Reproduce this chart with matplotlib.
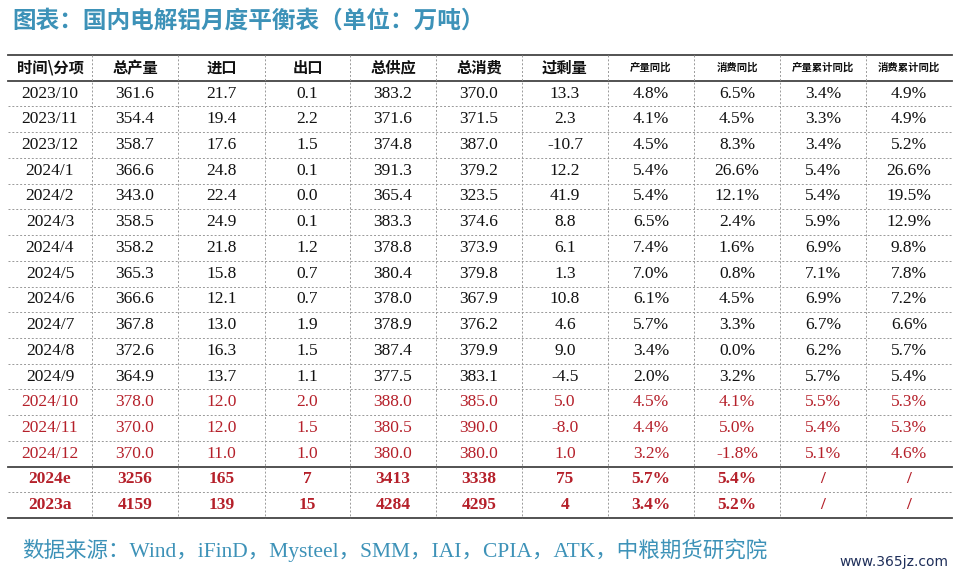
import matplotlib
matplotlib.use("Agg")
import matplotlib.pyplot as plt

headers = ["时间\\分项", "总产量", "进口", "出口", "总供应", "总消费", "过剩量", "产量同比", "消费同比", "产量累计同比", "消费累计同比"]
periods = ["2023/10", "2023/11", "2023/12", "2024/1", "2024/2", "2024/3", "2024/4", "2024/5", "2024/6",
           "2024/7", "2024/8", "2024/9", "2024/10", "2024/11", "2024/12", "2024e", "2023a"]
production = ["361.6", "354.4", "358.7", "366.6", "343.0", "358.5", "358.2", "365.3", "366.6", "367.8", "372.6", "364.9", "378.0", "370.0", "370.0", "3256", "4159"]
imports = ["21.7", "19.4", "17.6", "24.8", "22.4", "24.9", "21.8", "15.8", "12.1", "13.0", "16.3", "13.7", "12.0", "12.0", "11.0", "165", "139"]
exports = ["0.1", "2.2", "1.5", "0.1", "0.0", "0.1", "1.2", "0.7", "0.7", "1.9", "1.5", "1.1", "2.0", "1.5", "1.0", "7", "15"]
supply = ["383.2", "371.6", "374.8", "391.3", "365.4", "383.3", "378.8", "380.4", "378.0", "378.9", "387.4", "377.5", "388.0", "380.5", "380.0", "3413", "4284"]
consumption = ["370.0", "371.5", "387.0", "379.2", "323.5", "374.6", "373.9", "379.8", "367.9", "376.2", "379.9", "383.1", "385.0", "390.0", "380.0", "3338", "4295"]
surplus = ["13.3", "2.3", "-10.7", "12.2", "41.9", "8.8", "6.1", "1.3", "10.8", "4.6", "9.0", "-4.5", "5.0", "-8.0", "1.0", "75", "4"]
prod_yoy = ["4.8%", "4.1%", "4.5%", "5.4%", "5.4%", "6.5%", "7.4%", "7.0%", "6.1%", "5.7%", "3.4%", "2.0%", "4.5%", "4.4%", "3.2%", "5.7%", "3.4%"]
cons_yoy = ["6.5%", "4.5%", "8.3%", "26.6%", "12.1%", "2.4%", "1.6%", "0.8%", "4.5%", "3.3%", "0.0%", "3.2%", "4.1%", "5.0%", "-1.8%", "5.4%", "5.2%"]
prod_cum = ["3.4%", "3.3%", "3.4%", "5.4%", "5.4%", "5.9%", "6.9%", "7.1%", "6.9%", "6.7%", "6.2%", "5.7%", "5.5%", "5.4%", "5.1%", "/", "/"]
cons_cum = ["4.9%", "4.9%", "5.2%", "26.6%", "19.5%", "12.9%", "9.8%", "7.8%", "7.2%", "6.6%", "5.7%", "5.4%", "5.3%", "5.3%", "4.6%", "/", "/"]

cols = [periods, production, imports, exports, supply, consumption, surplus, prod_yoy, cons_yoy, prod_cum, cons_cum]

fig = plt.figure(figsize=(9.56, 5.78), dpi=100)
ax = fig.add_axes([0, 0, 1, 1])
ax.set_xlim(0, 956); ax.set_ylim(578, 0); ax.axis("off")

cjk = "Noto Sans CJK SC"
serif = "Liberation Serif"
blue = "#3d92b8"
red = "#b5202a"

ax.text(12, 21, "图表：国内电解铝月度平衡表（单位：万吨）", fontsize=17, fontweight="bold",
        color=blue, family=cjk, va="center", ha="left")

x0, x1 = 8, 952
xs = [8, 92, 178, 265, 350, 436, 522, 608, 694, 780, 866, 952]
top = 55
rh = (518 - 55) / 18.0
nrows = len(periods)

for j, h in enumerate(headers):
    cx = (xs[j] + xs[j + 1]) / 2
    fs = 11 if j < 7 else 7.5
    ax.text(cx, top + rh / 2, h, fontsize=fs, fontweight="bold", family=cjk, ha="center", va="center", color="#111")

for i in range(nrows):
    cy = top + rh * (i + 1.5)
    color = "#111" if i < 12 else red
    bold = i >= 15
    for j, col in enumerate(cols):
        cx = (xs[j] + xs[j + 1]) / 2
        ax.text(cx, cy, col[i], fontsize=12.5, family=serif, ha="center", va="center",
                color=color, fontweight="bold" if bold else "normal")

for k in range(nrows + 2):
    y = top + rh * k
    if k in (0, 1, 16, 18):
        ax.plot([x0, x1], [y, y], color="#444", lw=1.3)
    else:
        ax.plot([x0, x1], [y, y], color="#999", lw=0.7, ls=(0, (2, 2)))
for x in xs[1:-1]:
    ax.plot([x, x], [top, top + rh * 18], color="#999", lw=0.7, ls=(0, (2, 2)))

ax.text(22, 550, "数据来源：Wind，iFinD，Mysteel，SMM，IAI，CPIA，ATK，中粮期货研究院", fontsize=15.5,
        family=[serif, cjk], color=blue, ha="left", va="center")
ax.text(948, 562, "www.365jz.com", fontsize=10, family="DejaVu Sans", color="#1f2f5a", ha="right", va="center")

fig.savefig("out.png", dpi=100)
